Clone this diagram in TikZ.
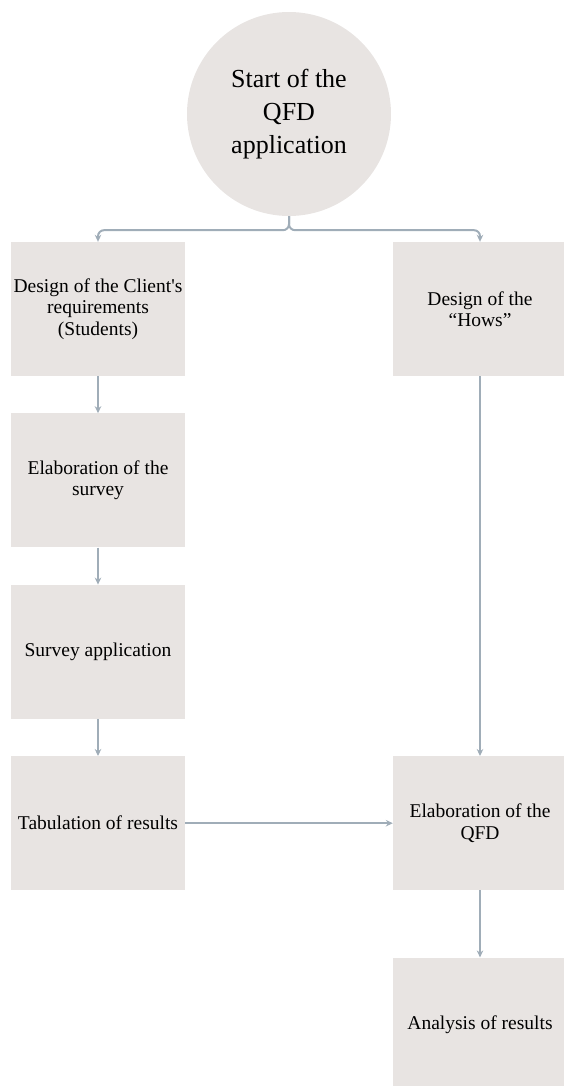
\documentclass[tikz,border=0pt]{standalone}
\usepackage{fontspec}
\setmainfont{Liberation Serif}
\usetikzlibrary{arrows.meta,positioning,calc}
\definecolor{boxgray}{HTML}{E8E4E2}
\definecolor{linkgray}{HTML}{A0ADB8}

\begin{document}
\begin{tikzpicture}[
  x=1pt, y=1pt,
  >={Stealth[length=7pt,width=6.5pt]},
  node distance=37pt,
  stage/.style={fill=boxgray, minimum width=174pt, minimum height=134pt,
                align=center, inner sep=2pt,
                font=\fontsize{19.5}{21.5}\selectfont},
  startnode/.style={circle, fill=boxgray, minimum size=204pt, inner sep=0pt,
                    align=center, font=\fontsize{26}{33}\selectfont},
  link/.style={->, linkgray, line width=2pt},
]
\useasboundingbox (0,0) rectangle (563,-1086);

% ---- start of the process ---------------------------------------------------
\node[startnode] (start) at (289,-114) {Start of the\\QFD\\application};

% ---- left column: client side ----------------------------------------------
\node[stage] (client) at (98,-309)
     {Design of the Client\textquotesingle s\\requirements\\(Students)};
\node[stage, below=of client] (survey) {Elaboration of the\\survey};
\node[stage, below=of survey] (apply)  {Survey application};
\node[stage, below=of apply]  (tab)    {Tabulation of results};

% ---- right column: technical side ------------------------------------------
\node[stage] (hows) at (480,-309) {Design of the\\“Hows”};
\node[stage] (qfd) at (hows |- tab) {Elaboration of the\\QFD};
\node[stage, below=67pt of qfd] (analysis) {Analysis of results};

% branching below the start circle
\coordinate (split) at ($(start.south)+(0,-14)$);
\draw[link, rounded corners=6pt] (start.south) -- (split) -| (client.north);
\draw[link, rounded corners=6pt] (start.south) -- (split) -| (hows.north);

\foreach \a/\b in {client/survey, survey/apply, apply/tab, hows/qfd, qfd/analysis}
  \draw[link] (\a) -- (\b);

\draw[link] (tab) -- (qfd);
\end{tikzpicture}
\end{document}
